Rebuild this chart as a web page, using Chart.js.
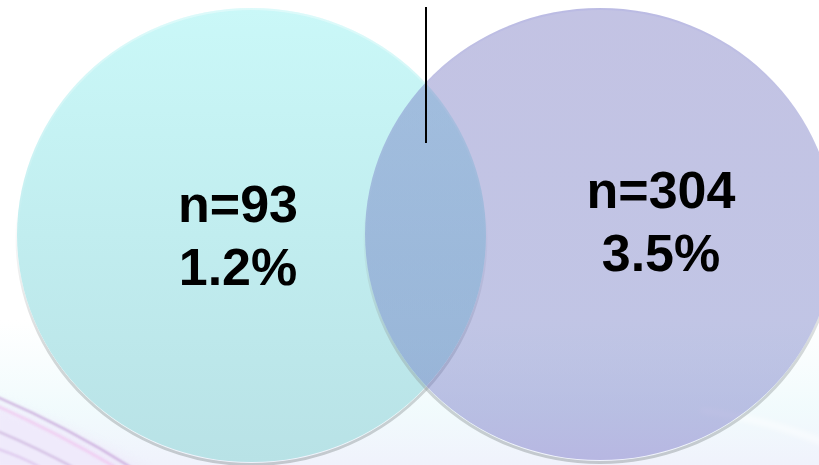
<!DOCTYPE html>
<html>
<head>
<meta charset="utf-8">
<script src="https://cdn.jsdelivr.net/npm/chart.js@4/dist/chart.umd.min.js"></script>
<style>
  html, body { margin: 0; padding: 0; background: #fff; overflow: hidden; }
  canvas { display: block; }
</style>
</head>
<body>
<canvas id="venn" width="819" height="465"></canvas>
<script>
// Group sizes and their shares, one entry per circle (left, right)
const counts = [93, 304];
const shares = [1.2, 3.5];

// Geometry in plot units (x: 0..819 left to right, y: 0..465 top to bottom)
const layout = {
  circles: [
    { cx: 251.5, cy: 235, rx: 234.5, ry: 227 },
    { cx: 600,   cy: 234, rx: 235,   ry: 226 }
  ],
  labels: [
    { x: 238, y: 222 },
    { x: 661, y: 208 }
  ],
  lineGap: 63,
  divider: { x: 426, y0: 7, y1: 143 }
};

const W = 819, H = 465;

function ellipsePath(ctx, s, dy) {
  ctx.beginPath();
  ctx.ellipse(s.px, s.py + (dy || 0), s.rx, s.ry, 0, 0, Math.PI * 2);
}

// Grey rim just outside the lower edge of each circle
function drawRimShadow(ctx, s) {
  ctx.save();
  ctx.beginPath();
  ctx.rect(0, 0, W, H);
  ctx.ellipse(s.px, s.py, s.rx, s.ry, 0, 0, Math.PI * 2);
  ctx.clip('evenodd');
  const g = ctx.createLinearGradient(0, s.py - 0.1 * s.ry, 0, s.py + s.ry);
  g.addColorStop(0, 'rgba(140,148,150,0)');
  g.addColorStop(0.55, 'rgba(140,148,150,0.35)');
  g.addColorStop(1, 'rgba(140,148,150,0.45)');
  ellipsePath(ctx, s, 2.5);
  ctx.strokeStyle = g;
  ctx.lineWidth = 3;
  ctx.stroke();
  ctx.restore();
}

function drawHighlight(ctx, s, color) {
  ctx.save();
  const g = ctx.createLinearGradient(0, s.py - s.ry, 0, s.py + s.ry);
  g.addColorStop(0, color);
  g.addColorStop(0.55, 'rgba(255,255,255,0)');
  g.addColorStop(1, 'rgba(255,255,255,0)');
  ellipsePath(ctx, s, 0);
  ctx.clip();
  ellipsePath(ctx, s, 0);
  ctx.strokeStyle = g;
  ctx.lineWidth = 4;
  ctx.stroke();
  ctx.restore();
}

function drawBackdrop(ctx) {
  ctx.save();
  ctx.fillStyle = '#ffffff';
  ctx.fillRect(0, 0, W, H);

  // pale wash along the bottom
  const wash = ctx.createLinearGradient(0, 320, 0, H);
  wash.addColorStop(0, 'rgba(238,250,252,0)');
  wash.addColorStop(0.6, 'rgba(238,250,252,0.8)');
  wash.addColorStop(1, 'rgba(240,242,252,1)');
  ctx.fillStyle = wash;
  ctx.fillRect(0, 320, W, H - 320);

  // lavender sweep in the lower left corner
  ctx.filter = 'blur(6px)';
  ctx.fillStyle = 'rgba(238,232,250,0.85)';
  ctx.beginPath();
  ctx.moveTo(-10, 400);
  ctx.quadraticCurveTo(80, 432, 150, 475);
  ctx.lineTo(-10, 475);
  ctx.closePath();
  ctx.fill();

  // thin pink / violet streaks
  ctx.filter = 'blur(0.8px)';
  const streaks = [
    { a: [-5, 396], c: [70, 428], b: [135, 470], col: 'rgba(185,140,205,0.7)', w: 2 },
    { a: [-5, 405], c: [60, 434], b: [120, 470], col: 'rgba(240,185,235,0.55)', w: 3 },
    { a: [-5, 430], c: [40, 449], b: [78, 470], col: 'rgba(180,140,200,0.5)', w: 2 },
    { a: [-5, 448], c: [25, 458], b: [45, 470], col: 'rgba(200,155,220,0.45)', w: 2 }
  ];
  streaks.forEach(s => {
    ctx.beginPath();
    ctx.moveTo(s.a[0], s.a[1]);
    ctx.quadraticCurveTo(s.c[0], s.c[1], s.b[0], s.b[1]);
    ctx.strokeStyle = s.col;
    ctx.lineWidth = s.w;
    ctx.stroke();
  });

  // faint white streaks on the lower right
  ctx.filter = 'blur(3px)';
  ctx.strokeStyle = 'rgba(255,255,255,0.9)';
  ctx.lineWidth = 4;
  ctx.beginPath();
  ctx.moveTo(700, 410); ctx.quadraticCurveTo(770, 420, 830, 445);
  ctx.stroke();
  ctx.restore();
}

const vennPlugin = {
  id: 'venn',
  beforeDraw(chart) {
    drawBackdrop(chart.ctx);
  },
  afterDatasetsDraw(chart) {
    const ctx = chart.ctx;
    const xs = chart.scales.x, ys = chart.scales.y;
    const meta = chart.getDatasetMeta(0);
    const shapes = meta.data.map((pt, i) => {
      const c = layout.circles[i];
      return {
        px: pt.x,
        py: pt.y,
        rx: Math.abs(xs.getPixelForValue(c.cx + c.rx) - pt.x),
        ry: Math.abs(ys.getPixelForValue(c.cy + c.ry) - pt.y)
      };
    });

    const [L, R] = shapes;

    // left circle: opaque aqua
    drawRimShadow(ctx, L);
    const gl = ctx.createLinearGradient(0, L.py - L.ry, 0, L.py + L.ry);
    gl.addColorStop(0, 'rgb(202,248,248)');
    gl.addColorStop(1, 'rgb(184,226,230)');
    ctx.save();
    ellipsePath(ctx, L, 0);
    ctx.fillStyle = gl;
    ctx.fill();
    ctx.restore();
    drawHighlight(ctx, L, 'rgba(255,255,255,0.35)');

    // right circle: translucent violet laid over the left one
    drawRimShadow(ctx, R);
    const gr = ctx.createLinearGradient(0, R.py - R.ry, 0, R.py + R.ry);
    gr.addColorStop(0, 'rgba(105,105,186,0.40)');
    gr.addColorStop(0.75, 'rgba(104,114,192,0.41)');
    gr.addColorStop(1, 'rgba(104,100,190,0.42)');
    ctx.save();
    ellipsePath(ctx, R, 0);
    ctx.fillStyle = gr;
    ctx.fill();
    ctx.restore();
    drawHighlight(ctx, R, 'rgba(140,140,225,0.15)');

    // divider line through the upper crossing point
    const d = layout.divider;
    ctx.save();
    ctx.beginPath();
    ctx.moveTo(xs.getPixelForValue(d.x), ys.getPixelForValue(d.y0));
    ctx.lineTo(xs.getPixelForValue(d.x), ys.getPixelForValue(d.y1));
    ctx.strokeStyle = '#000';
    ctx.lineWidth = 2;
    ctx.stroke();
    ctx.restore();

    // counts and shares
    ctx.save();
    ctx.fillStyle = '#000';
    ctx.font = 'bold 52px "Liberation Sans", Arial, sans-serif';
    ctx.textAlign = 'center';
    ctx.textBaseline = 'alphabetic';
    counts.forEach((n, i) => {
      const p = layout.labels[i];
      const tx = xs.getPixelForValue(p.x);
      const ty = ys.getPixelForValue(p.y);
      ctx.fillText('n=' + n, tx, ty);
      ctx.fillText(shares[i].toFixed(1) + '%', tx, ty + layout.lineGap);
    });
    ctx.restore();
  }
};

new Chart(document.getElementById('venn'), {
  type: 'scatter',
  data: {
    datasets: [{
      data: layout.circles.map(c => ({ x: c.cx, y: c.cy })),
      pointRadius: 0,
      pointHoverRadius: 0
    }]
  },
  options: {
    responsive: false,
    animation: false,
    events: [],
    layout: { padding: 0 },
    plugins: { legend: { display: false }, tooltip: { enabled: false } },
    scales: {
      x: { type: 'linear', min: 0, max: W, display: false },
      y: { type: 'linear', min: 0, max: H, reverse: true, display: false }
    }
  },
  plugins: [vennPlugin]
});
</script>
</body>
</html>
